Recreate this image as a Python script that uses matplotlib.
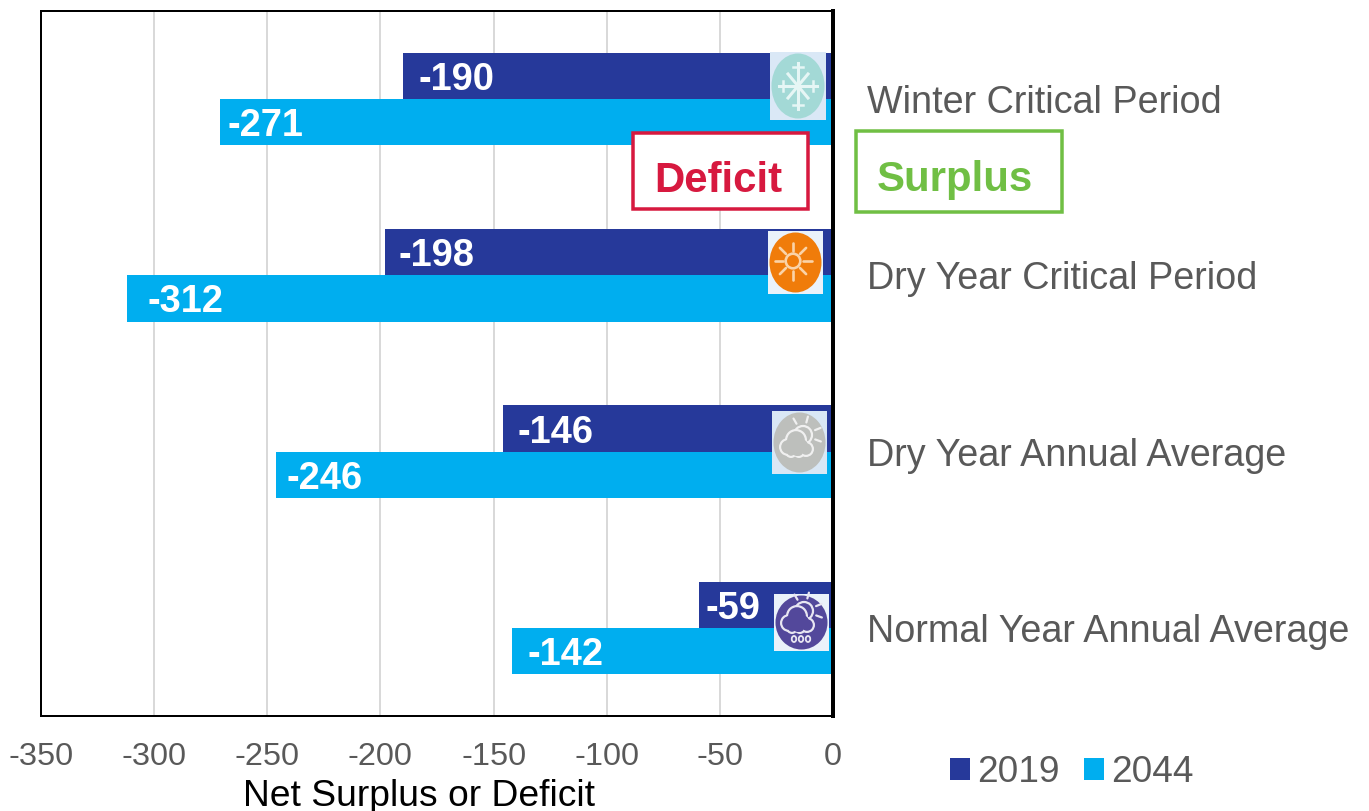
# -*- coding: utf-8 -*-
import matplotlib
matplotlib.use("Agg")
import matplotlib.pyplot as plt
from matplotlib.patches import Circle, Ellipse, Rectangle
import numpy as np

periods = ["Winter Critical Period", "Dry Year Critical Period",
           "Dry Year Annual Average", "Normal Year Annual Average"]
values_2019 = [-190, -198, -146, -59]
values_2044 = [-271, -312, -246, -142]
x_ticks = [-350, -300, -250, -200, -150, -100, -50, 0]

COLOR_2019 = "#26399A"
COLOR_2044 = "#00AEEF"
GREY_TEXT = "#595959"
PX = 0.72  # px a puntos con dpi=100

plt.rcParams["font.family"] = ["Liberation Sans", "DejaVu Sans"]
plt.rcParams["axes.unicode_minus"] = False

fig = plt.figure(figsize=(13.69, 8.11), dpi=100)
W, H = 1369.0, 811.0
ax = fig.add_axes([41 / W, 1 - 716 / H, 792 / W, 705 / H])

y = np.arange(len(periods)) + 0.5
bar_h = 0.262
bars_a = ax.barh(y - bar_h / 2, values_2019, bar_h, color=COLOR_2019, label="2019", zorder=3)
bars_b = ax.barh(y + bar_h / 2, values_2044, bar_h, color=COLOR_2044, label="2044", zorder=3)

ax.set_xlim(-350, 0)
ax.set_ylim(len(periods), 0)
ax.set_xticks(x_ticks)
ax.set_yticks(y)
ax.set_yticklabels(periods, va="center_baseline")
ax.yaxis.tick_right()
ax.tick_params(axis="y", length=0, pad=24.6, labelsize=37.8 * PX, labelcolor=GREY_TEXT)
ax.tick_params(axis="x", length=0, pad=19, labelsize=32.5 * PX, labelcolor=GREY_TEXT)
ax.grid(axis="x", color="#D9D9D9", linewidth=2 * PX, zorder=0)
ax.set_axisbelow(True)
for s in ax.spines.values():
    s.set_linewidth(2 * PX)
    s.set_color("black")
ax.spines["right"].set_linewidth(4 * PX)
ax.spines["right"].set_zorder(5)

ax.set_xlabel("Net Surplus or Deficit", fontsize=37.2 * PX, color="black")
ax.xaxis.set_label_coords(0.477, -0.1135)
ax.xaxis.label.set_verticalalignment("center")

# Etiquetas de valor, desplazadas desde el extremo de cada barra
pads_2019 = [53, 51, 53, 33]
pads_2044 = [46, 58, 48, 54]
for bars, vals, pads in ((bars_a, values_2019, pads_2019), (bars_b, values_2044, pads_2044)):
    for b, v, p in zip(bars, vals, pads):
        ax.annotate(str(v), (v, b.get_y() + b.get_height() / 2), xytext=(p * PX, 0),
                    textcoords="offset points", ha="center", va="center_baseline",
                    color="white", fontweight="bold", fontsize=38 * PX, zorder=4)

# Capa en pixeles para iconos y recuadros
ov = fig.add_axes([0, 0, 1, 1], zorder=10)
ov.set_xlim(0, W)
ov.set_ylim(H, 0)
ov.axis("off")


def icon_base(x0, x1, y0, y1, bg, fill):
    ov.add_patch(Rectangle((x0, y0), x1 - x0, y1 - y0, fc=bg, ec="none"))
    ov.add_patch(Ellipse(((x0 + x1) / 2, (y0 + y1) / 2), x1 - x0 - 3, y1 - y0 - 3, fc=fill, ec="none"))


def rays(cx, cy, r0, r1, angles, color, lw=1.6):
    for a in np.radians(angles):
        ov.plot([cx + r0 * np.cos(a), cx + r1 * np.cos(a)],
                [cy - r0 * np.sin(a), cy - r1 * np.sin(a)],
                color=color, lw=lw, solid_capstyle="round")


def cloud_sun(cx, cy, color, fill):
    # sol detras de la nube
    ov.add_patch(Circle((cx + 6, cy - 9), 9, fc="none", ec=color, lw=1.6))
    rays(cx + 6, cy - 9, 13, 19, [-20, 22, 75, 120], color, lw=1.6)
    # nube: primero los circulos en claro y encima el relleno
    lobes = ((-9, 3, 8), (-1, -4, 10), (9, 5, 7), (-6, 8, 5), (2, 8, 5))
    for dx, dy, r in lobes:
        ov.add_patch(Circle((cx + dx, cy + dy), r + 1, fc=color, ec="none"))
    for dx, dy, r in lobes:
        ov.add_patch(Circle((cx + dx, cy + dy), r - 1.2, fc=fill, ec="none"))
    for dx, dy, r in ((-5, 1, 7), (4, 2, 7), (0, 6, 6)):
        ov.add_patch(Circle((cx + dx, cy + dy), r, fc=fill, ec="none"))


# Invierno
icon_base(770, 826, 52, 120, "#DAE8F6", "#A3D9D6")
snow = "#E6F6F5"
ov.plot([779, 817], [86, 86], color=snow, lw=2.2)
ov.plot([798, 798], [63, 109], color=snow, lw=2.2)
ov.plot([788, 808], [74, 98], color=snow, lw=2.2)
ov.plot([788, 808], [98, 74], color=snow, lw=2.2)
for cy in (67, 105):
    ov.plot([793, 803], [cy, cy], color=snow, lw=1.8)
for cx in (783, 813):
    ov.plot([cx, cx], [81, 91], color=snow, lw=1.8)
ov.add_patch(Circle((798, 86), 3, fc="white", ec="none"))

# Sol
icon_base(768, 823, 231, 294, "#EAF2FA", "#F07C0A")
sun_line = "#FAD3A8"
ov.add_patch(Circle((793, 261), 7.3, fc="none", ec=sun_line, lw=1.9))
rays(793, 261, 10, 18.5, np.arange(0, 360, 45), sun_line, lw=1.9)

# Nublado
icon_base(772, 827, 411, 474, "#D9E7F5", "#BDBFBC")
cloud_sun(797, 444, "#F0F0F0", "#BDBFBC")

# Lluvia
icon_base(774, 829, 594, 651, "#EAF2FA", "#53489B")
cloud_sun(798, 620, "#E8E6F2", "#53489B")
for cx in (794, 801, 808):
    ov.add_patch(Ellipse((cx, 639), 4.5, 6, fc="none", ec="#E8E6F2", lw=1.3))

# Recuadros
ov.add_patch(Rectangle((633, 133), 175, 76, fc="white", ec="#D7193F", lw=3.5 * PX))
ov.text(718, 181, "Deficit", color="#D7193F", fontweight="bold", fontsize=42 * PX, ha="center", va="center")
ov.add_patch(Rectangle((856, 131), 206, 81, fc="white", ec="#70BF44", lw=3.5 * PX))
ov.text(955, 180, "Surplus", color="#70BF44", fontweight="bold", fontsize=42 * PX, ha="center", va="center")

fig.legend(handles=[bars_a, bars_b], loc="center left", bbox_to_anchor=(950 / W, 1 - 773 / H),
           ncol=2, frameon=False, fontsize=37 * PX, labelcolor=GREY_TEXT, handlelength=0.54,
           handleheight=0.54, handletextpad=0.2, columnspacing=0.65, borderpad=0, borderaxespad=0)

fig.savefig("out.png", dpi=100)
